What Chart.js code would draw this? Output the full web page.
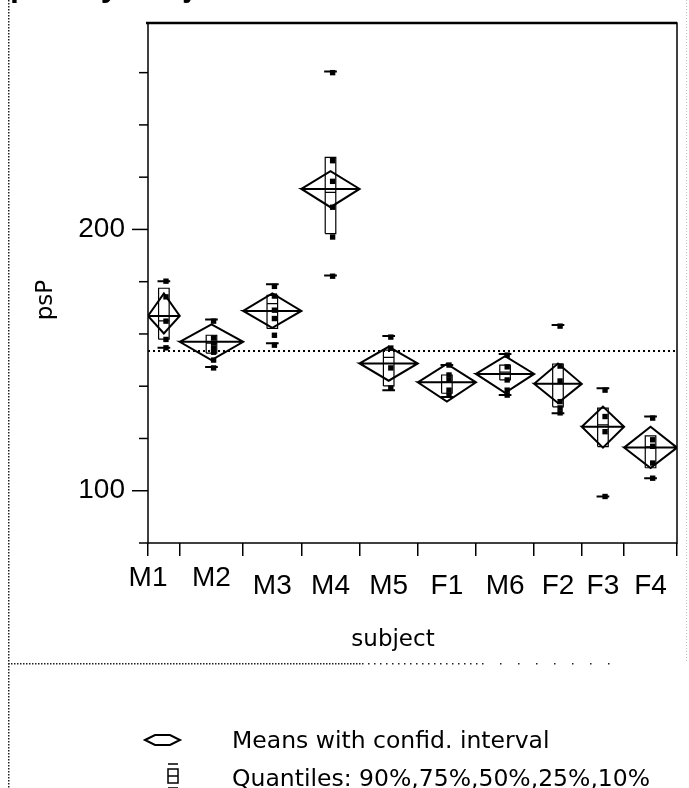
<!DOCTYPE html>
<html>
<head>
<meta charset="utf-8">
<title>psP By subject</title>
<script src="https://cdn.jsdelivr.net/npm/chart.js@4.4.1/dist/chart.umd.min.js"></script>
<style>
  html, body { margin: 0; padding: 0; background: #fff; }
  #wrap { width: 689px; height: 788px; }
</style>
</head>
<body>
<div id="wrap"><canvas id="chart" width="689" height="788"></canvas></div>
<script>
// subjects in plotting order
const subjects = ['M1', 'M2', 'M3', 'M4', 'M5', 'F1', 'M6', 'F2', 'F3', 'F4'];
// observations per subject, sets the width of each group
const groupN = [6, 12, 11, 11, 11, 11, 11, 9, 8, 10];

// means with 95% confidence limits
const means   = [166.9, 157.0, 168.8, 215.5, 148.7, 141.5, 144.7, 140.9, 124.5, 116.5];
const ciUpper = [175.5, 163.7, 175.5, 222.3, 155.1, 148.5, 151.5, 148.7, 132.2, 124.5];
const ciLower = [160.2, 150.0, 162.3, 208.5, 142.1, 134.1, 137.5, 133.6, 116.5, 108.7];

// quantiles
const q90 = [180.2, 165.5, 179.0, 260.4, 159.2, 148.1, 152.3, 163.4, 139.2, 128.4];
const q75 = [177.5, 159.5, 174.8, 227.6, 153.8, 144.3, 148.1, 148.5, 131.6, 121.0];
const q50 = [165.0, 156.5, 171.6, 214.2, 151.0, 141.6, 145.4, 141.0, 125.2, 116.8];
const q25 = [158.0, 152.7, 162.1, 198.4, 140.1, 137.3, 142.4, 132.1, 116.9, 108.8];
const q10 = [154.7, 147.4, 156.4, 182.4, 138.5, 135.9, 136.6, 129.7, 97.8, 104.8];

// individual psP values
const obsM1 = [180.2, 174.2, 164.9, 157.9, 154.7];
const obsM2 = [164.9, 158.5, 156.5, 154.5, 153.0, 150.0, 147.0];
const obsM3 = [178.2, 174.5, 169.1, 165.9, 159.5, 155.7];
const obsM4 = [260.0, 226.3, 218.4, 208.5, 197.1, 182.1];
const obsM5 = [158.8, 154.6, 147.0, 139.3];
const obsF1 = [148.1, 144.3, 142.4, 138.5, 136.6];
const obsM6 = [151.9, 147.4, 142.4, 138.5, 136.6];
const obsF2 = [163.0, 147.7, 142.0, 134.1, 131.7, 129.8];
const obsF3 = [138.5, 128.4, 122.6, 97.8];
const obsF4 = [127.8, 119.5, 117.0, 110.6, 104.8];
const observations = [obsM1, obsM2, obsM3, obsM4, obsM5, obsF1, obsM6, obsF2, obsF3, obsF4];

const grandMean = 153.5;

// y axis
const yTickValues = [80, 100, 120, 140, 160, 180, 200, 220, 240, 260];
const yTickLabels = ['', '100', '', '', '', '', '200', '', '', ''];

const legendText = ['Means with confid. interval', 'Quantiles: 90%,75%,50%,25%,10%'];

// group edges on the x scale (cumulative counts)
const edges = [0];
groupN.forEach(n => edges.push(edges[edges.length - 1] + n));
const mids = groupN.map((n, i) => edges[i] + n / 2);

const GAP = x => ({ x: x, y: null });

// diamonds plus the mean line across each one
const diamondPts = [];
subjects.forEach((s, i) => {
    const lo = edges[i], hi = edges[i + 1], m = mids[i];
    diamondPts.push(
        { x: lo, y: means[i] }, { x: m, y: ciUpper[i] }, { x: hi, y: means[i] },
        { x: m, y: ciLower[i] }, { x: lo, y: means[i] }, { x: hi, y: means[i] },
        GAP(hi)
    );
});

// quantile boxes with median
const boxHalf = 1;
const boxPts = [];
subjects.forEach((s, i) => {
    const a = mids[i] - boxHalf, b = mids[i] + boxHalf;
    boxPts.push(
        { x: a, y: q25[i] }, { x: a, y: q75[i] }, { x: b, y: q75[i] }, { x: b, y: q25[i] }, { x: a, y: q25[i] },
        GAP(b),
        { x: a, y: q50[i] }, { x: b, y: q50[i] },
        GAP(b)
    );
});

// 10% and 90% marks
const tailPts = [];
subjects.forEach((s, i) => {
    const a = mids[i] - 1.2, b = mids[i] + 1.2;
    tailPts.push({ x: a, y: q90[i] }, { x: b, y: q90[i] }, GAP(b), { x: a, y: q10[i] }, { x: b, y: q10[i] }, GAP(b));
});

const obsPts = [];
observations.forEach((vals, i) => vals.forEach(v => obsPts.push({ x: mids[i] + 0.4, y: v })));

const lineSet = (data, width) => ({
    type: 'scatter',
    data: data,
    showLine: true,
    spanGaps: false,
    borderColor: '#000',
    borderWidth: width,
    pointRadius: 0,
    tension: 0
});

// no extra room around the axes, the frame sits at fixed padding
const noPad = scale => {
    scale.paddingTop = 0;
    scale.paddingBottom = 0;
    scale.paddingLeft = 0;
    scale.paddingRight = 0;
};

// frame, tick marks, category labels, titles and key
const decorations = {
    id: 'decorations',
    afterDraw(chart) {
        const ctx = chart.ctx;
        const area = chart.chartArea;
        const xs = chart.scales.x, ys = chart.scales.y;
        ctx.save();

        // plot frame
        ctx.strokeStyle = '#000';
        ctx.lineWidth = 1.5;
        ctx.strokeRect(area.left, area.top, area.right - area.left, area.bottom - area.top);
        ctx.lineWidth = 2.5;
        ctx.beginPath();
        ctx.moveTo(area.left - 2, area.top);
        ctx.lineTo(area.right, area.top);
        ctx.stroke();

        // y tick marks, long ones where labelled
        ctx.lineWidth = 1.5;
        yTickValues.forEach((v, i) => {
            const y = ys.getPixelForValue(v);
            const len = yTickLabels[i] ? 16 : 9;
            ctx.beginPath();
            ctx.moveTo(area.left - len, y);
            ctx.lineTo(area.left, y);
            ctx.stroke();
        });

        // subject labels under each group
        ctx.fillStyle = '#000';
        ctx.font = '28px "Liberation Sans", Arial, sans-serif';
        ctx.textAlign = 'center';
        ctx.textBaseline = 'top';
        subjects.forEach((s, i) => {
            const w = ctx.measureText(s).width;
            const groupPx = xs.getPixelForValue(edges[i + 1]) - xs.getPixelForValue(edges[i]);
            const x = w > groupPx ? xs.getPixelForValue(edges[i]) : xs.getPixelForValue(mids[i]);
            const raised = i < 2;
            ctx.fillText(s, x, area.bottom + (raised ? 21 : 29));
        });

        // axis titles
        ctx.font = '23px "DejaVu Sans", sans-serif';
        ctx.textBaseline = 'middle';
        ctx.fillText('subject', 393, 640);
        ctx.save();
        ctx.translate(46, 300);
        ctx.rotate(-Math.PI / 2);
        ctx.fillText('psP', 0, 0);
        ctx.restore();

        // report title, scrolled mostly out of view
        ctx.font = 'bold 32px "Liberation Sans", Arial, sans-serif';
        ctx.textAlign = 'left';
        ctx.textBaseline = 'alphabetic';
        ctx.fillText('psP By subject', 10, -4);

        // dotted outline of the report frame, thinning out to the right
        ctx.fillStyle = '#222';
        for (let y = 0; y < 788; y += 3) ctx.fillRect(8, y, 1.5, 1.5);
        for (let x = 8; x < 610; x += (x < 360 ? 3 : x < 480 ? 6 : 18)) ctx.fillRect(x, 663, 1.5, 1.5);
        ctx.fillStyle = '#bbb';
        for (let y = 0; y < 663; y += 3) ctx.fillRect(686, y, 1, 1);

        // key
        ctx.fillStyle = '#000';
        ctx.strokeStyle = '#000';
        ctx.lineWidth = 2;
        ctx.beginPath();
        ctx.moveTo(145, 740); ctx.lineTo(155, 735); ctx.lineTo(170, 735);
        ctx.lineTo(180, 740); ctx.lineTo(170, 745); ctx.lineTo(155, 745);
        ctx.closePath();
        ctx.stroke();

        ctx.lineWidth = 1.5;
        ctx.strokeRect(168, 769, 10, 14);
        ctx.beginPath();
        ctx.moveTo(168, 776); ctx.lineTo(178, 776);
        ctx.moveTo(168, 764); ctx.lineTo(178, 764);
        ctx.moveTo(168, 788); ctx.lineTo(178, 788);
        ctx.stroke();

        ctx.font = '23.5px "DejaVu Sans", sans-serif';
        ctx.textBaseline = 'alphabetic';
        ctx.fillText(legendText[0], 232, 748);
        ctx.fillText(legendText[1], 232, 786);

        ctx.restore();
    }
};

new Chart(document.getElementById('chart'), {
    type: 'scatter',
    data: {
        datasets: [
            lineSet(diamondPts, 2),
            lineSet(boxPts, 1.2),
            lineSet(tailPts, 2),
            Object.assign(lineSet([{ x: edges[0], y: grandMean }, { x: edges[edges.length - 1], y: grandMean }], 2), {
                borderDash: [2, 3]
            }),
            {
                type: 'scatter',
                data: obsPts,
                pointStyle: 'rect',
                pointRadius: 3.8,
                backgroundColor: '#000',
                borderColor: '#000',
                borderWidth: 0
            }
        ]
    },
    options: {
        responsive: false,
        animation: false,
        devicePixelRatio: 1,
        layout: { padding: { left: 0, top: 23, right: 12, bottom: 0 } },
        plugins: {
            legend: { display: false },
            tooltip: { enabled: false }
        },
        scales: {
            x: {
                type: 'linear',
                min: edges[0],
                max: edges[edges.length - 1],
                afterBuildTicks: scale => { scale.ticks = edges.map(v => ({ value: v })); },
                afterFit: scale => { scale.height = 245; noPad(scale); },
                ticks: { display: false },
                border: { display: false },
                grid: {
                    drawOnChartArea: false,
                    drawTicks: true,
                    tickLength: 13,
                    color: '#000',
                    lineWidth: 1.5
                }
            },
            y: {
                min: 80,
                max: 279,
                afterBuildTicks: scale => { scale.ticks = yTickValues.map(v => ({ value: v })); },
                afterFit: scale => { scale.width = 148; noPad(scale); },
                border: { display: false },
                grid: { drawOnChartArea: false, drawTicks: false },
                ticks: {
                    color: '#000',
                    padding: 23,
                    font: { family: '"Liberation Sans", Arial, sans-serif', size: 28 },
                    callback: (v, i) => yTickLabels[i]
                }
            }
        }
    },
    plugins: [decorations]
});
</script>
</body>
</html>
